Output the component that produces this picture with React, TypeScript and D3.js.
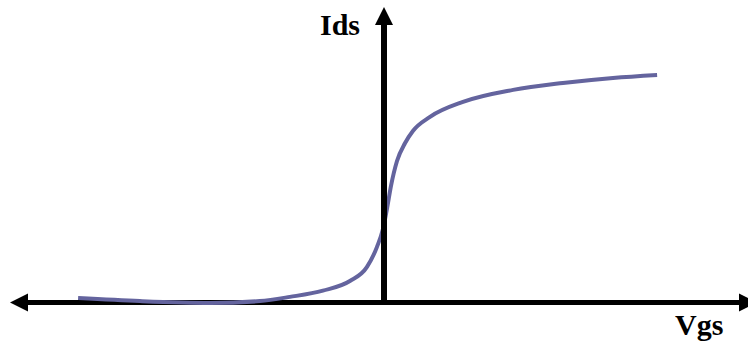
import React from "react";
import * as d3 from "d3";

const vgs = [-10.18, -8.12, -5.78, -4.12, -3.12, -2.02, -1.12, -0.55, -0.22, -0.02, 0.12, 0.25, 0.45, 0.72, 0.98, 1.55, 2.65, 4.32, 5.98, 7.65, 9.12];
const ids = [0.13, 0.03, -0.03, 0.03, 0.17, 0.38, 0.7, 1.17, 1.83, 2.43, 3.13, 3.87, 4.7, 5.3, 5.7, 6.17, 6.67, 7.07, 7.3, 7.47, 7.57];
const xLabel = "Vgs";
const yLabel = "Ids";

const W = 748;
const H = 341;

export default function App() {
  const x = d3.scaleLinear().domain([-10, 10]).range([83.5, 683.5]);
  const y = d3.scaleLinear().domain([0, 10]).range([302, 2]);
  const pts: [number, number][] = vgs.map((v, i) => [v, ids[i]]);
  const line = d3
    .line<[number, number]>()
    .x((d) => x(d[0]))
    .y((d) => y(d[1]))
    .curve(d3.curveMonotoneX);

  const ax0 = y(0) + 0.5; // horizontal axis y
  const ay0 = x(0) + 0.5; // vertical axis x
  const font = "'Liberation Serif', 'Times New Roman', serif";

  return (
    <svg
      width={W}
      height={H}
      style={{ position: "absolute", left: 0, top: 0, background: "#fff" }}
    >
      {/* horizontal axis */}
      <line x1={24} x2={742} y1={ax0} y2={ax0} stroke="#000" strokeWidth={5} />
      <polygon points={`10,${ax0} 28,${ax0 - 9} 28,${ax0 + 9}`} fill="#000" />
      <polygon points={`757,${ax0} 739,${ax0 - 9} 739,${ax0 + 9}`} fill="#000" />
      {/* curve */}
      <path d={line(pts) || ""} fill="none" stroke="#64649e" strokeWidth={4} strokeLinecap="butt" />
      {/* vertical axis */}
      <line x1={ay0} x2={ay0} y1={ax0} y2={22} stroke="#000" strokeWidth={6} />
      <polygon points={`${ay0},7 ${ay0 - 9},25 ${ay0 + 9},25`} fill="#000" />
      {/* labels */}
      <text x={320} y={35} fontFamily={font} fontWeight="bold" fontSize={30} fill="#000">
        {yLabel}
      </text>
      <text x={675} y={335} fontFamily={font} fontWeight="bold" fontSize={30} fill="#000">
        {xLabel}
      </text>
    </svg>
  );
}
